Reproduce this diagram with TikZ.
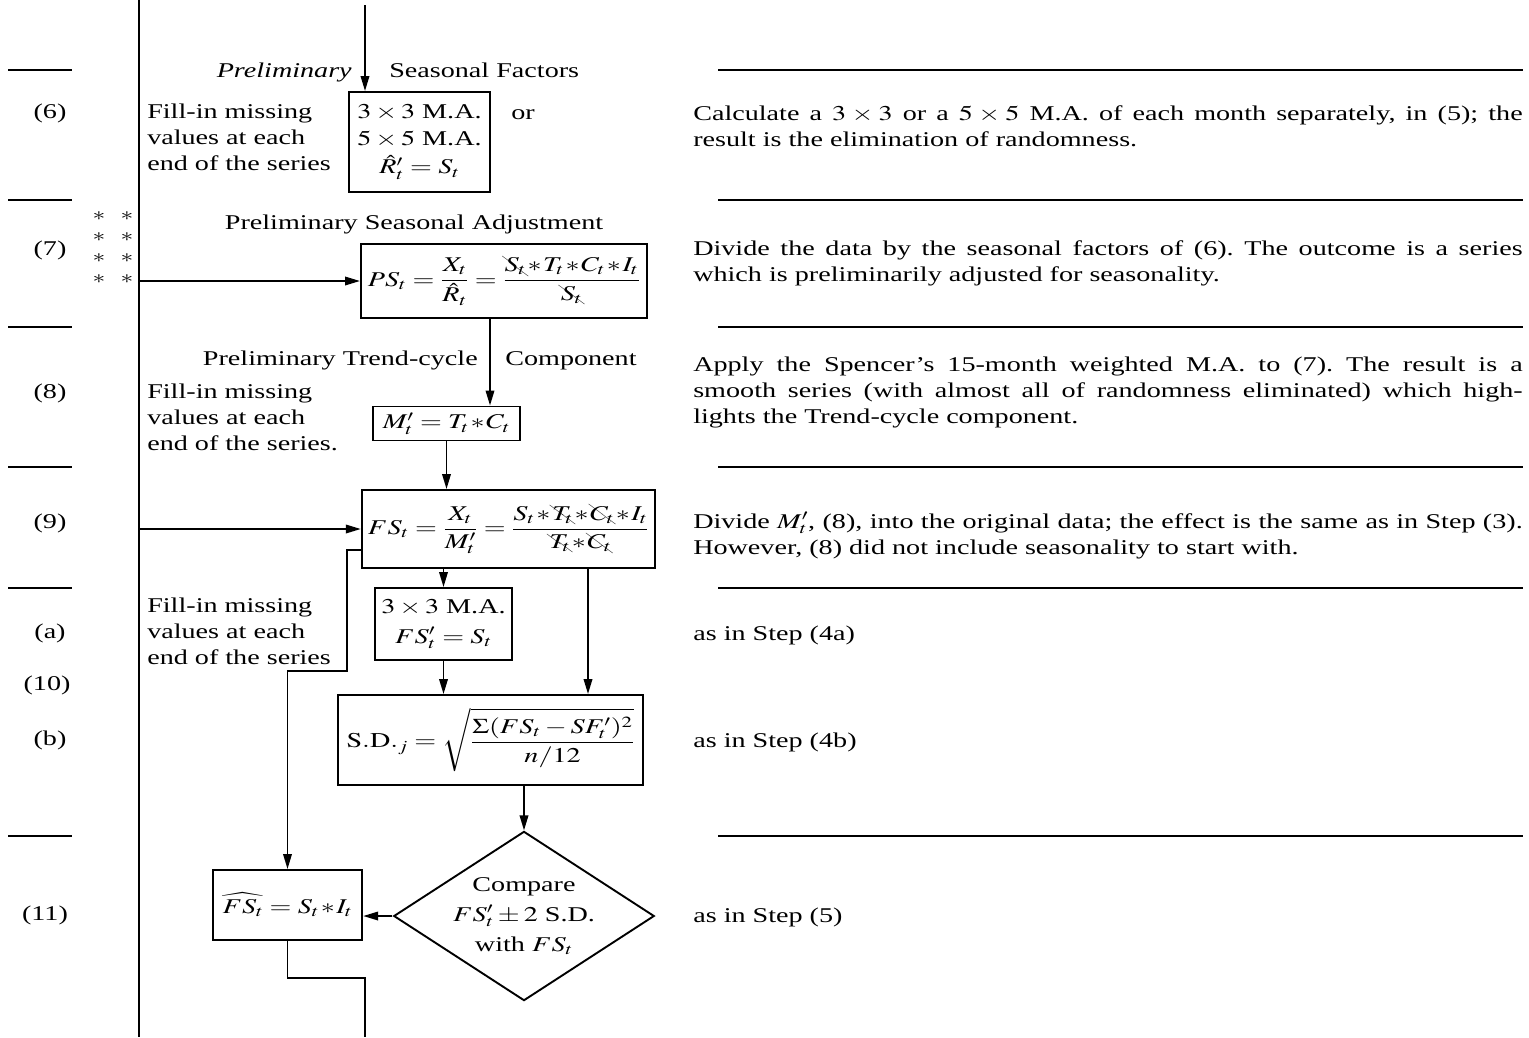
\documentclass[tikz,border=0pt]{standalone}
\usepackage{mathptmx}
\usepackage{fontspec}
\setmainfont{Liberation Serif}
\usepackage{cancel}
\usetikzlibrary{arrows.meta,shapes.geometric}
\frenchspacing
\tikzset{
  box/.style={draw, line width=1.9pt, align=center},
  arr/.style={line width=1.9pt, -{Triangle[length=15pt,width=8.5pt]}},
  ln/.style={line width=1.9pt},
  rulel/.style={line width=1.8pt},
  desc/.style={anchor=north west, text width=619pt, align=justify},
  lefttxt/.style={anchor=north west, align=left},
  starmark/.style={font=\fontsize{19}{19}\selectfont},
}
\begin{document}
\begin{tikzpicture}[x=1pt,y=-1pt,
  every node/.style={xscale=1.34, inner sep=0pt, font=\fontsize{21}{26}\selectfont}]
\useasboundingbox (0,0) rectangle (1529,1037);

% section rules
\foreach \yy in {70,200,327,467,588,836} {
  \draw[rulel] (8,\yy) -- (72,\yy);
  \draw[rulel] (718,\yy) -- (1523,\yy);
}

% main vertical line
\coordinate (vtop) at (139,0);
\coordinate (vbot) at (139,1037);
\draw[ln] (vtop) -- (vbot);

% step labels
\node (l6) at (50,113) {(6)};
\node (l7) at (50,250) {(7)};
\node (l8) at (50,393) {(8)};
\node (l9) at (50,523) {(9)};
\node (la) at (50,633) {(a)};
\node (l10) at (47,685) {(10)};
\node (lb) at (50,740) {(b)};
\node (l11) at (45,915) {(11)};

% stars
\foreach \yy in {216,237,258,279} {
  \node[starmark] (sa\yy) at (99,\yy) {$\ast$};
  \node[starmark] (sb\yy) at (127,\yy) {$\ast$};
}

% step 6
\node[anchor=base east] (p6a) at (352,77) {\textit{Preliminary}};
\node[anchor=base west] (p6b) at (389,77) {Seasonal Factors};
\node[lefttxt] (f6) at (147,100.5) {\strut Fill-in missing\\values at each\\end of the series};
\node[box, minimum width=105pt, minimum height=100pt] (b6) at (419.5,142)
  {$3\times3$ M.A.\\[1pt]$5\times5$ M.A.\\[2pt]$\hat{R}'_t = S_t$};
\node[anchor=base west] (or6) at (511,119) {or};
\coordinate (a0) at (365,5);
\draw[arr] (a0) -- (a0 |- b6.north);

% step 7
\node[anchor=base] (p7) at (414,229) {Preliminary Seasonal Adjustment};
\node[box, inner xsep=3pt, minimum width=213pt, minimum height=74pt] (ps) at (504,281)
  {$\medmuskip=1mu\displaystyle PS_t = \frac{X_t}{\hat{R}_t} = \frac{\bcancel{S_t}*T_t*C_t*I_t}{\bcancel{S_t}}$};
\coordinate (v7) at (139,281);
\draw[arr] (v7) -- (ps.west);

% step 8
\node[anchor=base east] (p8a) at (478,365) {Preliminary Trend-cycle};
\node[anchor=base west] (p8b) at (505,365) {Component};
\node[lefttxt] (f8) at (147,380) {\strut Fill-in missing\\values at each\\end of the series.};
\node[box, minimum width=110pt, minimum height=34pt] (mp) at (446.5,423.5) {$\medmuskip=1mu M'_t = T_t*C_t$};
\coordinate (c1) at (490,0);
\draw[arr] (c1 |- ps.south) -- (c1 |- mp.north);

% step 9
\node[box, inner xsep=3pt, minimum width=218.5pt, minimum height=78pt] (fs) at (508.5,529)
  {$\medmuskip=1mu\displaystyle FS_t = \frac{X_t}{M'_t} = \frac{S_t*\bcancel{T_t}*\bcancel{C_t}*I_t}{\bcancel{T_t}*\bcancel{C_t}}$};
\draw[arr] (mp.south) -- (mp.south |- fs.north);
\coordinate (v9) at (139,529);
\draw[arr] (v9) -- (fs.west);

% step 10
\node[lefttxt] (f10) at (147,594) {\strut Fill-in missing\\values at each\\end of the series};
\node[box, minimum width=102pt, minimum height=72pt] (b3) at (443.5,624)
  {$3\times3$ M.A.\\[4pt]$FS'_t = S_t$};
\draw[arr] (b3.north |- fs.south) -- (b3.north);
\node[box, minimum width=227.6pt, minimum height=90pt] (sd) at (490.5,740)
  {$\displaystyle \mathrm{S.D.}_j = \sqrt{\frac{\Sigma(FS_t - SF'_t)^2}{n/12}}$};
\draw[arr] (b3.south) -- (b3.south |- sd.north);
\coordinate (c2) at (588,0);
\draw[arr] (c2 |- fs.south) -- (c2 |- sd.north);

% step 11
\node[draw, diamond, line width=1.9pt, aspect=1.15, minimum width=186pt, minimum height=163pt, align=center] (dia) at (524,916)
  {Compare\\[4pt]$FS'_t\pm2$ S.D.\\[4pt]with $FS_t$};
\draw[arr] (dia.north |- sd.south) -- (dia.north);
\node[box, minimum width=111pt, minimum height=70pt] (fsh) at (287.5,905) {$\medmuskip=1mu\widehat{FS_t} = S_t*I_t$};
\draw[arr] (dia.west) -- (dia.west -| fsh.east);

% feedback from FS to FS-hat
\coordinate (c3) at (347,550);
\coordinate (y670) at (0,671);
\draw[arr] (fs.west |- c3) -- (c3) |- (fsh.north |- y670) -- (fsh.north);

% exit
\coordinate (c5) at (365,978);
\coordinate (exitpt) at (365,1037);
\draw[ln] (fsh.south) |- (c5) -- (exitpt);

% descriptions
\node[desc] (d6) at (693,102) {\strut Calculate a $3\times3$ or a $5\times5$ M.A. of each month separately, in (5); the\linebreak result is the elimination of randomness.};
\node[desc] (d7) at (693,237) {\strut Divide the data by the seasonal factors of (6). The outcome is a series\linebreak which is preliminarily adjusted for seasonality.};
\node[desc] (d8) at (693,353) {\strut Apply the Spencer's 15-month weighted M.A. to (7). The result is a\linebreak smooth series (with almost all of randomness eliminated) which high-\linebreak lights the Trend-cycle component.};
\node[desc] (d9) at (693,510) {\strut Divide $M'_t$, (8), into the original data; the effect is the same as in Step (3).\linebreak However, (8) did not include seasonality to start with.};
\node[anchor=base west] (d10a) at (693,640) {as in Step (4a)};
\node[anchor=base west] (d10b) at (693,747) {as in Step (4b)};
\node[anchor=base west] (d11) at (693,922) {as in Step (5)};
\end{tikzpicture}
\end{document}
